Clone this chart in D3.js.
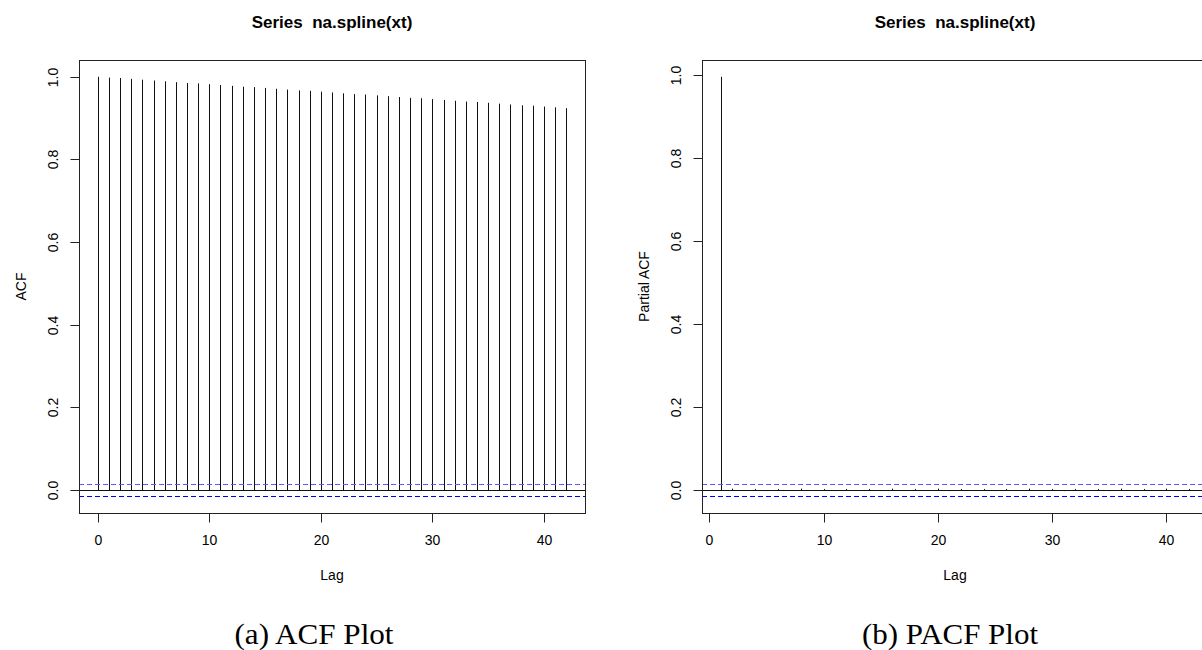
<!DOCTYPE html>
<html>
<head>
<meta charset="utf-8">
<script src="https://cdn.jsdelivr.net/npm/d3@7"></script>
<style>
  html, body { margin: 0; padding: 0; background: #fff; }
  svg { display: block; }
  text { font-family: "Liberation Sans", Arial, sans-serif; fill: #000; }
</style>
</head>
<body>
<svg id="fig" width="1202" height="650"></svg>
<script>
// Sample autocorrelation of na.spline(xt), lags 0..42
const acfLags = d3.range(0, 43);
const acfValues = [
  1.000, 0.998, 0.997, 0.995, 0.993, 0.991, 0.989, 0.987, 0.985, 0.984,
  0.982, 0.980, 0.978, 0.976, 0.975, 0.973, 0.971, 0.969, 0.967, 0.966,
  0.964, 0.962, 0.960, 0.958, 0.957, 0.955, 0.953, 0.951, 0.949, 0.948,
  0.946, 0.944, 0.942, 0.940, 0.939, 0.937, 0.935, 0.933, 0.931, 0.930,
  0.928, 0.926, 0.924
];

// Partial autocorrelation, lags 1..42
const pacfLags = d3.range(1, 43);
const pacfValues = [
  0.996, 0.003, -0.002, 0.002, -0.003, 0.002, -0.002, 0.003, -0.002, 0.002,
  -0.003, 0.002, -0.002, 0.002, -0.003, 0.003, -0.002, 0.002, -0.002, 0.003,
  -0.003, 0.002, -0.002, 0.002, -0.003, 0.002, -0.002, 0.003, -0.002, 0.002,
  -0.003, 0.002, -0.002, 0.002, -0.003, 0.003, -0.002, 0.002, -0.002, 0.003,
  -0.003, 0.002
];

// 95% white-noise bound, 1.96 / sqrt(n)
const confBound = [0.0153];

const xTicks = [0, 10, 20, 30, 40];
const yTicks = [0.0, 0.2, 0.4, 0.6, 0.8, 1.0];

const titles = ["Series  na.spline(xt)", "Series  na.spline(xt)"];
const yLabels = ["ACF", "Partial ACF"];
const xLabel = "Lag";
const captions = ["(a) ACF Plot", "(b) PACF Plot"];

const svg = d3.select("#fig");
svg.append("rect").attr("width", 1202).attr("height", 650).attr("fill", "#fff");

// pad a range by 4% on each side, as base graphics does
function padded(lo, hi) {
  const d = (hi - lo) * 0.04;
  return [lo - d, hi + d];
}
// snap a coordinate to a pixel centre so 1px strokes stay crisp
const crisp = v => Math.round(v) + 0.5;

function drawPanel(cfg) {
  const { lags, values, box, title, ylab } = cfg;
  const clim = confBound[0];
  const g = svg.append("g");

  const x = d3.scaleLinear()
    .domain(padded(d3.min(lags), d3.max(lags)))
    .range([box.x0, box.x1]);
  const yExt = d3.extent([-clim, clim, ...values]);
  const y = d3.scaleLinear()
    .domain(padded(yExt[0], yExt[1]))
    .range([box.y1, box.y0]);

  const clip = "clip" + cfg.id;
  g.append("clipPath").attr("id", clip)
    .append("rect")
    .attr("x", box.x0).attr("y", box.y0)
    .attr("width", box.x1 - box.x0 + 1).attr("height", box.y1 - box.y0);

  const plot = g.append("g").attr("clip-path", `url(#${clip})`);

  // spikes
  plot.selectAll("line.spike")
    .data(lags.map((l, i) => ({ lag: l, v: values[i] })))
    .join("line")
    .attr("class", "spike")
    .attr("x1", d => crisp(x(d.lag)))
    .attr("x2", d => crisp(x(d.lag)))
    .attr("y1", crisp(y(0)))
    .attr("y2", d => y(d.v))
    .attr("stroke", "#111")
    .attr("stroke-width", 1);

  // zero line
  plot.append("line")
    .attr("x1", box.x0).attr("x2", box.x1)
    .attr("y1", crisp(y(0))).attr("y2", crisp(y(0)))
    .attr("stroke", "#111").attr("stroke-width", 1);

  // confidence bounds
  plot.selectAll("line.ci")
    .data([clim, -clim])
    .join("line")
    .attr("class", "ci")
    .attr("x1", box.x0).attr("x2", box.x1)
    .attr("y1", d => crisp(y(d))).attr("y2", d => crisp(y(d)))
    .attr("stroke", d => d > 0 ? "#5a5aff" : "#0000ff")
    .attr("stroke-width", 1)
    .attr("stroke-dasharray", "5,3");

  // frame
  g.append("rect")
    .attr("x", box.x0 + 0.5).attr("y", box.y0 + 0.5)
    .attr("width", box.x1 - box.x0).attr("height", box.y1 - box.y0)
    .attr("fill", "none").attr("stroke", "#222").attr("stroke-width", 1);

  // bottom axis
  const xAxis = d3.axisBottom(x).tickValues(xTicks).tickSize(9).tickPadding(13)
    .tickFormat(d3.format("d"));
  const ga = g.append("g").attr("transform", `translate(0,${box.y1 + 0.5})`).call(xAxis);
  ga.select(".domain").attr("d", `M${x(xTicks[0])},0H${x(xTicks[xTicks.length - 1])}`)
    .attr("stroke", "#222");
  ga.selectAll(".tick").attr("transform", d => `translate(${crisp(x(d))},0)`);
  ga.selectAll(".tick line").attr("stroke", "#222");
  ga.selectAll("text").attr("font-size", 14)
    .attr("font-family", "Liberation Sans, Arial, sans-serif").attr("fill", "#000");

  // left axis with labels parallel to the axis
  const yAxis = d3.axisLeft(y).tickValues(yTicks).tickSize(9).tickFormat(d3.format(".1f"));
  const gy = g.append("g").attr("transform", `translate(${box.x0 + 0.5},0)`).call(yAxis);
  gy.select(".domain").attr("d", `M0,${y(yTicks[0])}V${y(yTicks[yTicks.length - 1])}`)
    .attr("stroke", "#222");
  gy.selectAll(".tick").attr("transform", d => `translate(0,${crisp(y(d))})`);
  gy.selectAll(".tick line").attr("stroke", "#222");
  gy.selectAll(".tick text")
    .attr("x", null).attr("dy", null)
    .attr("transform", "translate(-22,0) rotate(-90)")
    .attr("text-anchor", "middle")
    .attr("font-size", 14)
    .attr("font-family", "Liberation Sans, Arial, sans-serif").attr("fill", "#000");

  // title
  g.append("text")
    .attr("x", (box.x0 + box.x1) / 2).attr("y", 28)
    .attr("text-anchor", "middle")
    .attr("font-size", 17).attr("font-weight", "bold")
    .style("white-space", "pre")
    .text(title);

  // axis titles
  g.append("text")
    .attr("x", (box.x0 + box.x1) / 2).attr("y", 580)
    .attr("text-anchor", "middle").attr("font-size", 14)
    .text(xLabel);
  g.append("text")
    .attr("transform", `translate(${box.x0 - 53},${(box.y0 + box.y1) / 2}) rotate(-90)`)
    .attr("text-anchor", "middle").attr("font-size", 14)
    .text(ylab);
}

drawPanel({ id: "a", lags: acfLags, values: acfValues,
  box: { x0: 79, x1: 585, y0: 60, y1: 513 }, title: titles[0], ylab: yLabels[0] });
drawPanel({ id: "b", lags: pacfLags, values: pacfValues,
  box: { x0: 702, x1: 1208, y0: 60, y1: 513 }, title: titles[1], ylab: yLabels[1] });

// subfigure captions
svg.selectAll("text.caption")
  .data([{ t: captions[0], cx: 314, w: 159 }, { t: captions[1], cx: 950, w: 176 }])
  .join("text")
  .attr("class", "caption")
  .attr("x", d => d.cx).attr("y", 644)
  .attr("text-anchor", "middle")
  .attr("font-size", 29)
  .attr("textLength", d => d.w)
  .attr("lengthAdjust", "spacingAndGlyphs")
  .style("font-family", "'Liberation Serif', 'DejaVu Serif', serif")
  .text(d => d.t);
</script>
</body>
</html>
